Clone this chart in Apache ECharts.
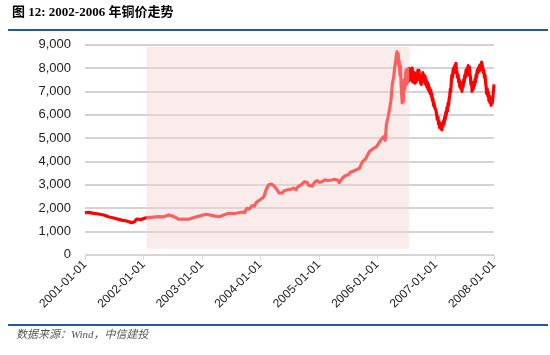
<!DOCTYPE html>
<html>
<head>
<meta charset="utf-8">
<script src="https://cdn.jsdelivr.net/npm/echarts@6/dist/echarts.min.js"></script>
<style>
  html, body { margin: 0; padding: 0; background: #fff; }
  #chart { width: 550px; height: 355px; }
</style>
</head>
<body>
<div id="chart"></div>
<script>
// 铜价（美元/吨）
var dates = [
  '2001-01-01','2001-01-25','2001-02-25','2001-03-28','2001-04-28','2001-05-28','2001-07-05','2001-08-18',
  '2001-09-18','2001-10-20','2001-11-08','2001-11-20','2001-12-15','2002-01-18','2002-02-18','2002-04-06',
  '2002-05-08','2002-06-08','2002-07-08','2002-08-10','2002-09-12','2002-10-12','2002-11-12','2002-12-15',
  '2003-01-28','2003-03-04','2003-04-18','2003-05-18','2003-06-18','2003-07-28','2003-09-10','2003-09-25',
  '2003-10-10','2003-10-24','2003-11-12','2003-11-25','2003-12-06','2003-12-20','2004-01-13','2004-01-25',
  '2004-02-05','2004-02-15','2004-02-25','2004-03-05','2004-03-12','2004-03-20','2004-03-28','2004-04-08',
  '2004-04-15','2004-04-22','2004-04-28','2004-05-08','2004-05-18','2004-05-30','2004-06-10','2004-06-20',
  '2004-07-01','2004-07-10','2004-07-18','2004-07-28','2004-08-12','2004-08-22','2004-09-01','2004-09-15',
  '2004-09-25','2004-10-03','2004-10-12','2004-10-20','2004-10-28','2004-11-08','2004-11-22','2004-12-05',
  '2004-12-15','2004-12-22','2005-01-05','2005-01-18','2005-01-28','2005-02-08','2005-02-18','2005-03-01',
  '2005-03-12','2005-03-24','2005-04-06','2005-04-18','2005-04-28','2005-05-09','2005-05-20','2005-06-01',
  '2005-06-09','2005-06-20','2005-07-04','2005-07-12','2005-07-22','2005-08-05','2005-08-18','2005-08-30',
  '2005-09-12','2005-09-22','2005-10-01','2005-10-10','2005-10-20','2005-11-01','2005-11-13','2005-11-25',
  '2005-12-08','2005-12-18','2005-12-28','2006-01-08','2006-01-16','2006-01-28','2006-02-10','2006-02-20',
  '2006-02-28','2006-03-10','2006-03-18','2006-03-28','2006-04-06','2006-04-14','2006-04-20','2006-04-25',
  '2006-05-01','2006-05-05','2006-05-09','2006-05-12','2006-05-16','2006-05-19','2006-05-23','2006-05-26',
  '2006-05-30','2006-06-02','2006-06-06','2006-06-09','2006-06-13','2006-06-16','2006-06-20','2006-06-23',
  '2006-06-27','2006-06-30','2006-07-04','2006-07-07','2006-07-11','2006-07-14','2006-07-18','2006-07-21',
  '2006-07-25','2006-07-28','2006-08-01','2006-08-04','2006-08-08','2006-08-11','2006-08-15','2006-08-18',
  '2006-08-22','2006-08-25','2006-08-29','2006-09-01','2006-09-05','2006-09-08','2006-09-12','2006-09-15',
  '2006-09-19','2006-09-22','2006-09-26','2006-09-29','2006-10-03','2006-10-06','2006-10-10','2006-10-13',
  '2006-10-17','2006-10-20','2006-10-24','2006-10-27','2006-10-31','2006-11-03','2006-11-07','2006-11-10',
  '2006-11-14','2006-11-17','2006-11-21','2006-11-24','2006-11-28','2006-12-01','2006-12-05','2006-12-08',
  '2006-12-12','2006-12-15','2006-12-19','2006-12-22','2006-12-27','2007-01-03','2007-01-08','2007-01-11',
  '2007-01-16','2007-01-19','2007-01-23','2007-01-26','2007-01-30','2007-02-02','2007-02-06','2007-02-09',
  '2007-02-13','2007-02-16','2007-02-20','2007-02-23','2007-02-27','2007-03-02','2007-03-06','2007-03-09',
  '2007-03-13','2007-03-16','2007-03-20','2007-03-23','2007-03-27','2007-03-30','2007-04-03','2007-04-06',
  '2007-04-10','2007-04-13','2007-04-17','2007-04-20','2007-04-24','2007-04-27','2007-05-01','2007-05-04',
  '2007-05-08','2007-05-11','2007-05-15','2007-05-18','2007-05-22','2007-05-25','2007-05-29','2007-06-01',
  '2007-06-05','2007-06-08','2007-06-12','2007-06-15','2007-06-19','2007-06-22','2007-06-26','2007-06-29',
  '2007-07-03','2007-07-06','2007-07-10','2007-07-13','2007-07-17','2007-07-20','2007-07-24','2007-07-27',
  '2007-07-31','2007-08-03','2007-08-07','2007-08-10','2007-08-14','2007-08-17','2007-08-21','2007-08-24',
  '2007-08-28','2007-08-31','2007-09-04','2007-09-07','2007-09-11','2007-09-14','2007-09-18','2007-09-21',
  '2007-09-25','2007-09-28','2007-10-02','2007-10-05','2007-10-09','2007-10-12','2007-10-16','2007-10-19',
  '2007-10-23','2007-10-26','2007-10-30','2007-11-02','2007-11-06','2007-11-09','2007-11-13','2007-11-16',
  '2007-11-20','2007-11-23','2007-11-27','2007-11-30','2007-12-04','2007-12-07','2007-12-11','2007-12-14',
  '2007-12-18','2007-12-21','2007-12-26','2007-12-28','2008-01-01'
];
var prices = [
  1800,1810,1770,1740,1700,1625,1560,1480,
  1440,1370,1420,1525,1500,1580,1600,1625,
  1620,1700,1640,1515,1520,1515,1590,1650,
  1728,1680,1625,1700,1770,1760,1827,1800,
  1985,1950,2100,2080,2225,2300,2414,2500,
  2750,2900,3000,2950,3020,2980,2940,2900,
  2780,2850,2630,2700,2650,2740,2680,2780,
  2700,2800,2760,2850,2780,2900,2850,3000,
  2950,3125,3050,3100,2980,3050,2940,3100,
  3050,3170,3100,3120,3050,3200,3270,3180,
  3250,3200,3230,3280,3200,3085,3200,3300,
  3340,3400,3420,3500,3555,3580,3620,3600,
  3700,3750,3985,3950,4100,4150,4420,4450,
  4550,4500,4630,4700,4840,4950,5055,4900,
  5600,5900,6200,6600,7345,7600,8000,8200,
  8560,8700,8400,8630,8100,8300,7700,8100,
  7400,7000,6500,6900,6550,7200,7500,7100,
  7700,7900,7300,7700,7950,7400,8000,7600,
  7850,7500,7950,7600,8000,7400,7700,7450,
  7800,7350,7600,7400,7700,7500,7900,7600,
  7900,7500,7700,7400,7300,7600,7400,7800,
  7500,7700,7400,7650,7300,7500,7200,7400,
  7100,7300,7000,7150,6900,7050,6800,6900,
  6600,6700,6400,6500,6300,6200,6000,5800,
  5900,5600,5700,5450,5600,5400,5550,5350,
  5650,5500,5750,5600,5900,5800,6100,6000,
  6300,6150,6500,6400,6700,6800,7100,7000,
  7500,7700,7600,7900,8000,7800,8100,7900,
  8200,7950,7800,7600,7700,7400,7500,7200,
  7400,7100,7300,7000,7300,7200,7500,7400,
  7700,7600,7900,7700,8000,7800,8100,7700,
  8050,7800,7600,7300,7400,7000,7200,7100,
  7350,7250,7500,7400,7700,7600,7900,7800,
  8000,7850,8100,7900,8150,8000,8250,8100,
  8000,7800,7900,7600,7700,7400,7200,6900,
  7100,6800,6950,6600,6800,6500,6650,6400,
  6600,6500,6800,7000,7300
];
var tickLabels = ['2001-01-01','2002-01-01','2003-01-01','2004-01-01','2005-01-01','2006-01-01','2007-01-01','2008-01-01'];
var shadeRange = ['2002-01-20', '2006-07-20'];
var shadeValues = [250, 8920];

function ts(d) { return Date.UTC(+d.slice(0, 4), +d.slice(5, 7) - 1, +d.slice(8, 10)); }
function fmt(v) {
  var d = new Date(v);
  var m = d.getUTCMonth() + 1, day = d.getUTCDate();
  return d.getUTCFullYear() + '-' + (m < 10 ? '0' : '') + m + '-' + (day < 10 ? '0' : '') + day;
}

var myChart = echarts.init(document.getElementById('chart'));
var seriesData = dates.map(function (d, i) { return [ts(d), prices[i]]; });
var tickValues = tickLabels.map(ts);

myChart.setOption({
  animation: false,
  grid: { left: 85, right: 56, top: 44.7, bottom: 100.4 },
  xAxis: {
    type: 'value',
    min: tickValues[0],
    max: tickValues[tickValues.length - 1],
    axisLine: { show: true, lineStyle: { color: '#d9d9d9', width: 1 } },
    axisTick: { show: true, length: 5, lineStyle: { color: '#d9d9d9' }, customValues: tickValues },
    splitLine: { show: false },
    axisLabel: {
      customValues: tickValues,
      rotate: 45,
      margin: 8,
      fontFamily: 'Liberation Sans, Arial',
      fontSize: 12,
      color: '#222',
      formatter: fmt
    }
  },
  yAxis: {
    type: 'value',
    min: 0,
    max: 9000,
    interval: 1000,
    axisLine: { show: false },
    axisTick: { show: false },
    splitLine: { lineStyle: { color: '#c4c4c4', width: 1.5 } },
    axisLabel: {
      margin: 14,
      fontFamily: 'Liberation Sans, Arial',
      fontSize: 13,
      color: '#222',
      formatter: function (v) { return v === 0 ? '0' : v.toLocaleString('en-US'); }
    }
  },
  series: [
    {
      name: '铜价',
      type: 'line',
      data: seriesData,
      symbol: 'none',
      lineStyle: { color: '#ff0000', width: 3.2, join: 'round' },
      markArea: {
        silent: true,
        z: 10,
        itemStyle: { color: 'rgba(246,212,212,0.45)' },
        data: [[
          { coord: [ts(shadeRange[0]), shadeValues[0]] },
          { coord: [ts(shadeRange[1]), shadeValues[1]] }
        ]]
      }
    }
  ],
  graphic: [
    {
      type: 'text', left: 12, top: 6,
      style: { text: '图 12: 2002-2006 年铜价走势', font: 'bold 13px "Liberation Serif", "Noto Sans CJK SC"', fill: '#000' }
    },
    { type: 'rect', shape: { x: 8, y: 29, width: 540, height: 2 }, style: { fill: '#1f5c99' } },
    { type: 'rect', shape: { x: 8, y: 324, width: 540, height: 2 }, style: { fill: '#1f5c99' } },
    {
      type: 'text', left: 16, top: 330,
      style: { text: '数据来源：Wind，中信建投', font: 'italic 11px "Liberation Serif", "Noto Sans CJK SC"', fill: '#555' }
    }
  ]
});
</script>
</body>
</html>
